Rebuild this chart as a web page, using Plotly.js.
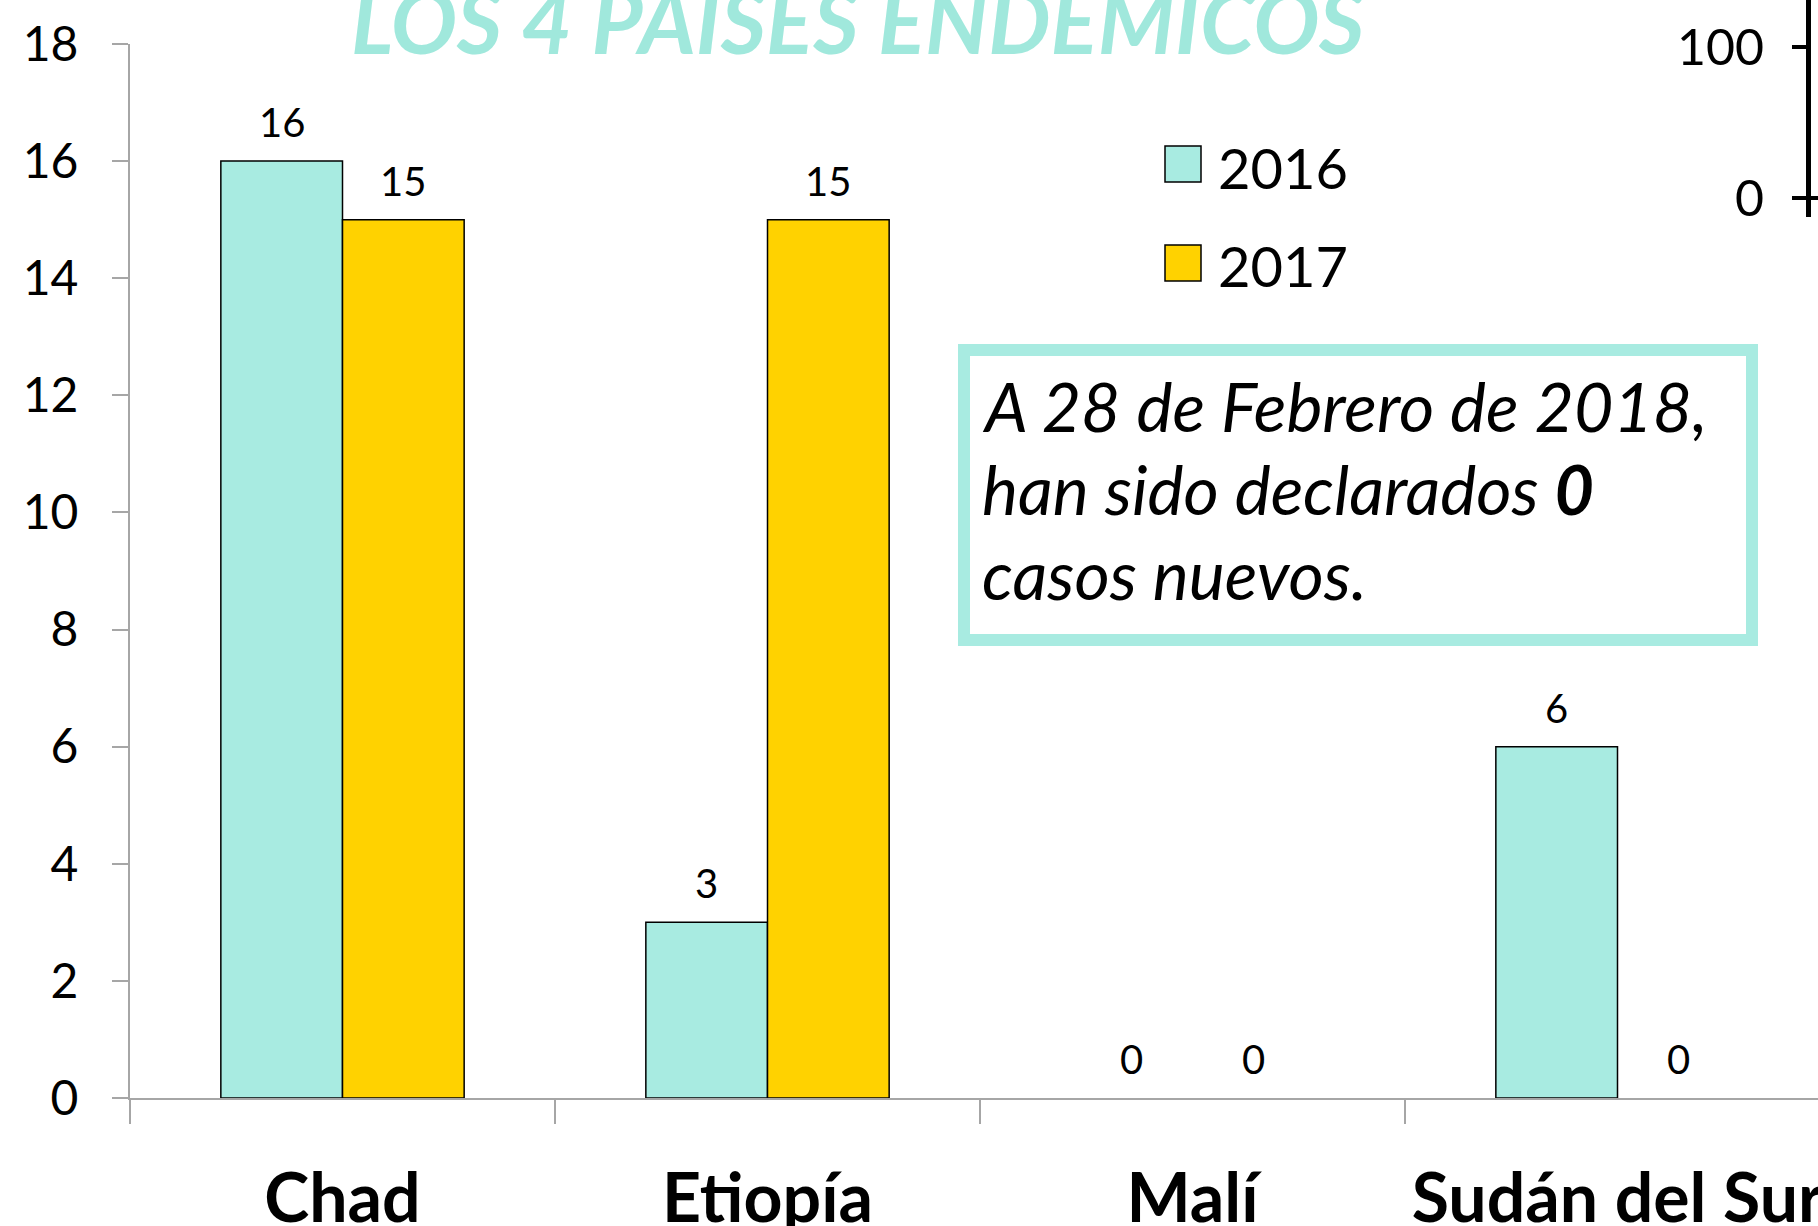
<!DOCTYPE html>
<html>
<head>
<meta charset="utf-8">
<script src="https://cdn.plot.ly/plotly-3.0.1.min.js"></script>
<style>html,body{margin:0;padding:0;background:#fff;}#chart{width:1818px;height:1226px;}</style>
</head>
<body>
<div id="chart"></div>
<script>
// ---- data ----
const categories = ["Chad", "Etiopía", "Malí", "Sudán del Sur"];
const seriesNames = ["2016", "2017"];
const values2016 = [16, 3, 0, 6];
const values2017 = [15, 15, 0, 0];
const yTicks = [0, 2, 4, 6, 8, 10, 12, 14, 16, 18];
const insetTicks = [0, 100];
const titleText = "LOS 4 PAISES ENDEMICOS";
const noteLines = ["A 28 de Febrero de 2018,", "han sido declarados <b>0</b>", "casos nuevos."];

// ---- layout helpers (pixels -> paper) ----
const W = 1818, H = 1226, L = 130, R = 0, T = 0, B = 128;
const PW = W - L - R, PH = H - T - B;
const fx = px => (px - L) / PW;
const fy = py => (H - B - py) / PH;

const colors = ["#A8EBE1", "#FFD200"];
const gray = "#A6A6A6";
const catPx = 425;
const bargap = 0.4275;
const barPx = catPx * (1 - bargap) / 2;
const font = "Lato, 'Open Sans', sans-serif";

const series = [values2016, values2017];
const traces = series.map((vals, s) => ({
  type: "bar",
  name: seriesNames[s],
  x: categories,
  y: vals,
  marker: {color: colors[s], line: {color: "#000", width: vals.map(v => v === 0 ? 0 : 1.5)}},
  hoverinfo: "x+y+name"
}));
traces.push({type: "scatter", x: [], y: [], xaxis: "x2", yaxis: "y2", showlegend: false, hoverinfo: "skip"});

const annotations = [];
series.forEach((vals, s) => {
  vals.forEach((v, i) => {
    annotations.push({
      x: categories[i], y: v, xref: "x", yref: "y",
      text: String(v), showarrow: false,
      xshift: (s - 0.5) * barPx, yshift: 13,
      yanchor: "bottom", xanchor: "center",
      font: {family: font, size: 40, color: "#000"}
    });
  });
});
// title
annotations.push({
  xref: "paper", yref: "paper", x: fx(857), y: fy(75),
  xanchor: "center", yanchor: "bottom", showarrow: false,
  text: titleText,
  font: {family: font, size: 88, color: "#A0E8DC", weight: "bold", style: "italic"}
});
// legend (manual, large swatches)
const shapes = [];
const legRows = [164, 263];
seriesNames.forEach((n, s) => {
  shapes.push({type: "rect", xref: "paper", yref: "paper",
    x0: fx(1165), x1: fx(1201), y0: fy(legRows[s] - 18), y1: fy(legRows[s] + 18),
    fillcolor: colors[s], line: {color: "#000", width: 1.5}});
  annotations.push({xref: "paper", yref: "paper", x: fx(1216), y: fy(legRows[s] + (s === 0 ? 4 : 2)),
    xanchor: "left", yanchor: "middle", showarrow: false, text: n,
    font: {family: font, size: 56, color: "#000"}});
});
// note box
shapes.push({type: "rect", xref: "paper", yref: "paper",
  x0: fx(964), x1: fx(1752), y0: fy(350), y1: fy(640),
  fillcolor: "#fff", line: {color: "#A8EBE1", width: 12}});
const noteBaselines = [432, 515, 600];
const noteSize = 68;
noteLines.forEach((t, k) => {
  annotations.push({xref: "paper", yref: "paper", x: fx(980), y: fy(noteBaselines[k] - 0.387 * noteSize),
    xanchor: "left", yanchor: "middle", align: "left", showarrow: false,
    text: t,
    font: {family: font, size: noteSize, color: "#000", style: "italic"}});
});

// inset axis range from pixel positions (0 at 198px, 100 at 47px, domain 0..217px)
const insetV = py => (198 - py) / (198 - 47) * 100;

const layout = {
  width: W, height: H,
  margin: {l: L, r: R, t: T, b: B, pad: 0},
  paper_bgcolor: "#fff", plot_bgcolor: "rgba(0,0,0,0)",
  showlegend: false,
  barmode: "group", bargap: bargap, bargroupgap: 0,
  font: {family: font, color: "#000"},
  xaxis: {
    type: "category", range: [-0.5, -0.5 + PW / catPx],
    domain: [0, 1], anchor: "y",
    tickson: "boundaries", ticks: "outside", ticklen: 24, tickwidth: 2, tickcolor: gray,
    showline: true, linecolor: gray, linewidth: 2, showgrid: false, zeroline: false,
    tickfont: {family: font, size: 68, color: "#000", weight: "bold"},
    ticklabelstandoff: 40
  },
  yaxis: {
    range: [0, 18], domain: [0, fy(44)], anchor: "x",
    tickvals: yTicks, ticks: "outside", ticklen: 16, tickwidth: 2, tickcolor: gray,
    showline: true, linecolor: gray, linewidth: 2, showgrid: false, zeroline: false,
    tickfont: {family: font, size: 48, color: "#000"},
    ticklabelstandoff: 24
  },
  xaxis2: {domain: [fx(1811), 1], anchor: "y2", visible: false, range: [0, 1]},
  yaxis2: {
    domain: [fy(217), 1], anchor: "x2", side: "left",
    range: [insetV(217), insetV(0)],
    tickvals: insetTicks, ticks: "outside", ticklen: 14, tickwidth: 4, tickcolor: "#000",
    showline: true, linecolor: "#000", linewidth: 5, showgrid: false,
    zeroline: true, zerolinecolor: "#000", zerolinewidth: 4,
    tickfont: {family: font, size: 50, color: "#000"},
    ticklabelstandoff: 18
  },
  shapes: shapes,
  annotations: annotations
};

Plotly.newPlot("chart", traces, layout, {displayModeBar: false, staticPlot: true});
</script>
</body>
</html>
